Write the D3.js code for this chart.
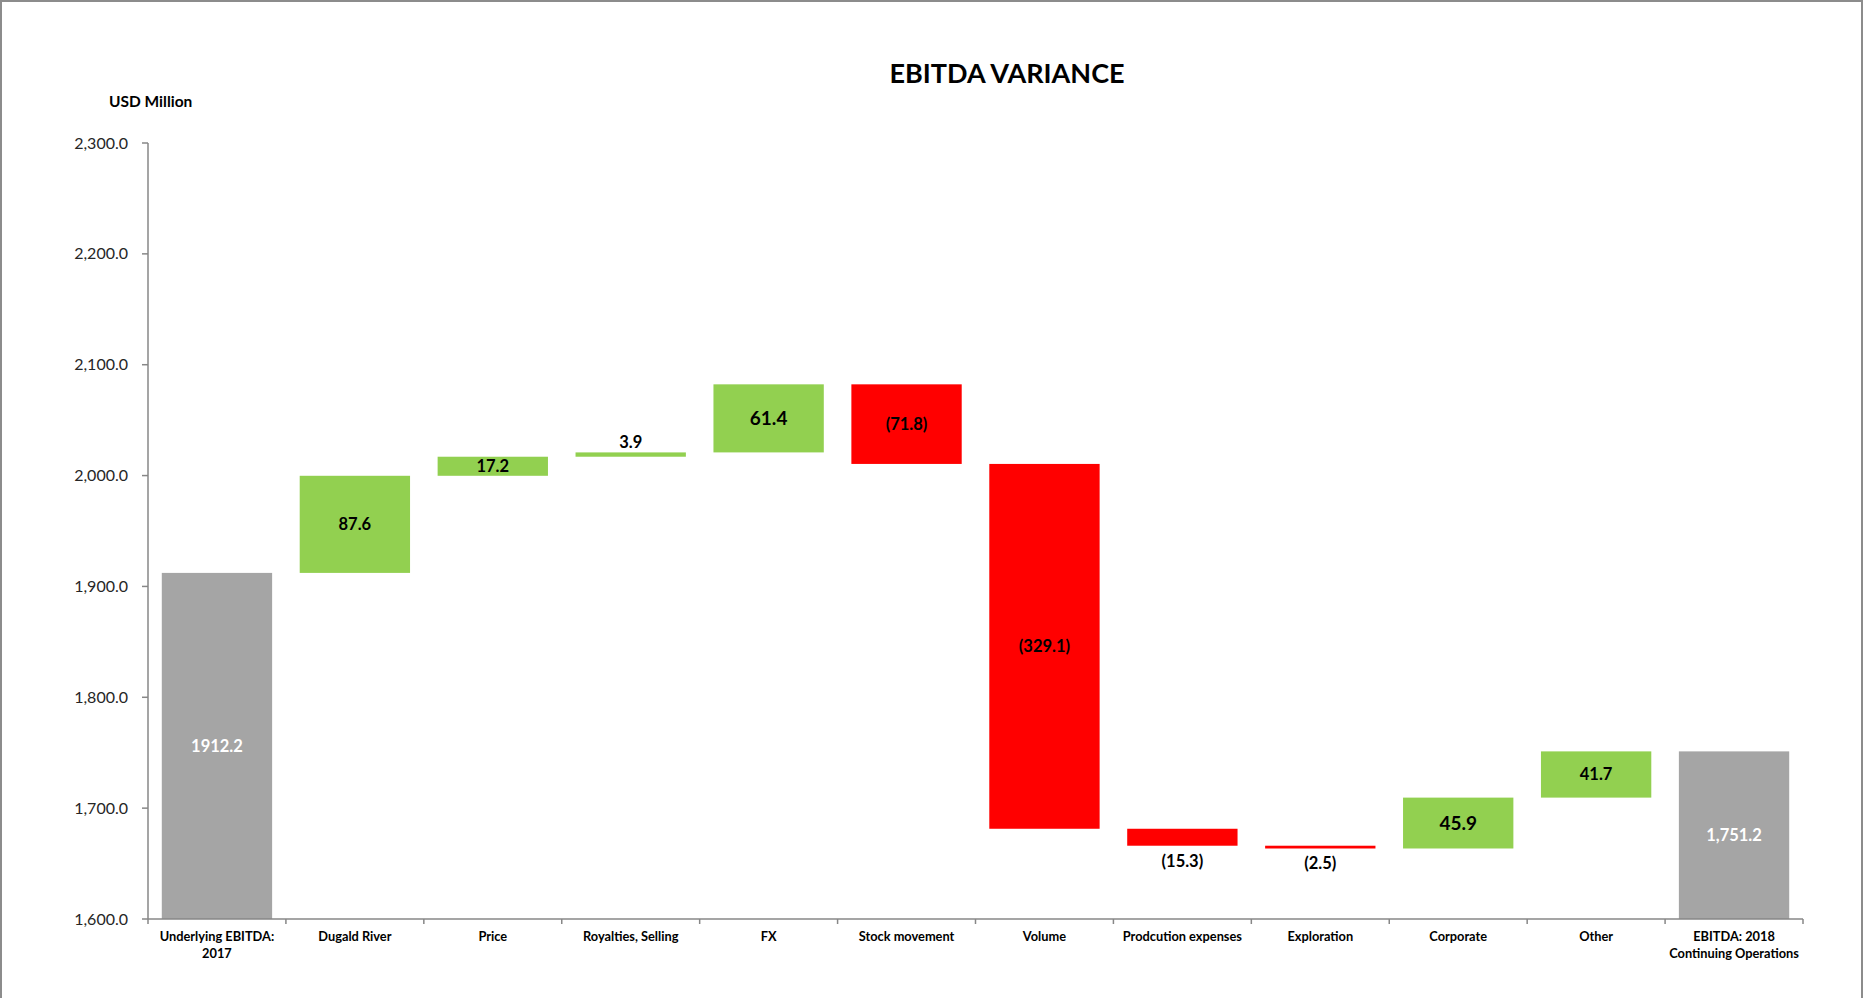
<!DOCTYPE html>
<html>
<head>
<meta charset="utf-8">
<script src="https://cdn.jsdelivr.net/npm/d3@7"></script>
<style>
  body { margin: 0; background: #fff; }
  svg text { font-family: Lato, "Open Sans", sans-serif; fill: #000; }
</style>
</head>
<body>
<svg id="chart" width="1864" height="998"></svg>
<script>
// categories and changes (USD Million)
var categories = ["Underlying EBITDA: 2017", "Dugald River", "Price", "Royalties, Selling", "FX",
    "Stock movement", "Volume", "Prodcution expenses", "Exploration", "Corporate", "Other",
    "EBITDA: 2018 Continuing Operations"];
var startValue = 1912.2;
var changes = [87.6, 17.2, 3.9, 61.4, -71.8, -329.1, -15.3, -2.5, 45.9, 41.7];
var endValue = 1751.2;
var yTicks = [1600, 1700, 1800, 1900, 2000, 2100, 2200, 2300];

// labels drawn a bit larger in the original
var bigLabels = ["FX", "Corporate"];

var width = 1864, height = 998;
var svg = d3.select("#chart");

// outer chart border (bottom edge falls outside the picture)
svg.append("rect")
    .attr("x", 1).attr("y", 1)
    .attr("width", width - 3).attr("height", height + 10)
    .attr("fill", "none")
    .attr("stroke", "#8c8c8c")
    .attr("stroke-width", 2);

// build waterfall rows
var rows = [];
var run = startValue;
rows.push({ name: categories[0], lo: 1600, hi: startValue, kind: "total", value: startValue, text: "1912.2" });
changes.forEach(function(c, i) {
    var next = run + c;
    rows.push({
        name: categories[i + 1],
        lo: Math.min(run, next),
        hi: Math.max(run, next),
        kind: c >= 0 ? "up" : "down",
        value: c,
        text: c >= 0 ? d3.format(".1f")(c) : "(" + d3.format(".1f")(-c) + ")"
    });
    run = next;
});
rows.push({ name: categories[11], lo: 1600, hi: endValue, kind: "total", value: endValue, text: d3.format(",.1f")(endValue) });

var x = d3.scaleBand()
    .domain(categories)
    .range([148, 1803])
    .paddingInner(0.2)
    .paddingOuter(0.1);

var y = d3.scaleLinear()
    .domain([1600, 2300])
    .range([919, 143]);

var colors = { total: "#a5a5a5", up: "#92d050", down: "#ff0000" };

// bars
svg.append("g").selectAll("rect")
    .data(rows)
    .join("rect")
    .attr("x", function(d) { return x(d.name); })
    .attr("width", x.bandwidth())
    .attr("y", function(d) { return y(d.hi); })
    .attr("height", function(d) { return Math.max(2, y(d.lo) - y(d.hi)); })
    .attr("fill", function(d) { return colors[d.kind]; });

// axes
var axisColor = "#878787";

svg.append("line")
    .attr("x1", 148).attr("x2", 148)
    .attr("y1", 143).attr("y2", 919)
    .attr("stroke", axisColor).attr("stroke-width", 1.5);

var yTickG = svg.append("g").selectAll("g")
    .data(yTicks)
    .join("g")
    .attr("transform", function(d) { return "translate(0," + y(d) + ")"; });
yTickG.append("line")
    .attr("x1", 142).attr("x2", 148)
    .attr("stroke", axisColor).attr("stroke-width", 1.5);
yTickG.append("text")
    .attr("x", 128)
    .attr("dy", "0.35em")
    .attr("text-anchor", "end")
    .style("font-size", "16px")
    .style("fill", "#262626")
    .text(d3.format(",.1f"));

svg.append("line")
    .attr("x1", 148).attr("x2", 1803)
    .attr("y1", 919).attr("y2", 919)
    .attr("stroke", axisColor).attr("stroke-width", 1.5);

var step = x.step();
var bounds = d3.range(categories.length + 1).map(function(i) { return 148 + i * step; });
svg.append("g").selectAll("line")
    .data(bounds)
    .join("line")
    .attr("x1", function(d) { return d; }).attr("x2", function(d) { return d; })
    .attr("y1", 919).attr("y2", 924)
    .attr("stroke", axisColor).attr("stroke-width", 1.5);

// category labels, wrapped like excel
var wraps = {
    "Underlying EBITDA: 2017": ["Underlying EBITDA:", "2017"],
    "EBITDA: 2018 Continuing Operations": ["EBITDA: 2018", "Continuing Operations"]
};
var catText = svg.append("g").selectAll("text")
    .data(categories)
    .join("text")
    .attr("x", function(d) { return x(d) + x.bandwidth() / 2; })
    .attr("y", 941)
    .attr("text-anchor", "middle")
    .style("font-size", "12.8px")
    .style("font-weight", "bold");
catText.each(function(d) {
    var lines = wraps[d] || [d];
    var t = d3.select(this);
    lines.forEach(function(l, i) {
        t.append("tspan")
            .attr("x", x(d) + x.bandwidth() / 2)
            .attr("dy", i == 0 ? 0 : 16.5)
            .text(l);
    });
});

// value labels
svg.append("g").selectAll("text")
    .data(rows)
    .join("text")
    .attr("x", function(d) { return x(d.name) + x.bandwidth() / 2; })
    .attr("y", function(d) {
        var h = y(d.lo) - y(d.hi);
        if (h >= 18) return (y(d.lo) + y(d.hi)) / 2;
        if (d.kind == "up") return y(d.hi) - 10;
        return y(d.lo) + 15;
    })
    .attr("dy", "0.36em")
    .attr("text-anchor", "middle")
    .style("font-weight", "bold")
    .style("font-size", function(d) { return bigLabels.indexOf(d.name) >= 0 ? "19px" : "16.5px"; })
    .style("fill", function(d) { return d.kind == "total" ? "#ffffff" : "#000000"; })
    .text(function(d) { return d.text; });

// titles
svg.append("text")
    .attr("x", 1007).attr("y", 83)
    .attr("text-anchor", "middle")
    .style("font-size", "27px")
    .style("font-weight", "bold")
    .text("EBITDA VARIANCE");

svg.append("text")
    .attr("x", 109).attr("y", 107)
    .style("font-size", "15.5px")
    .style("font-weight", "bold")
    .text("USD Million");
</script>
</body>
</html>
